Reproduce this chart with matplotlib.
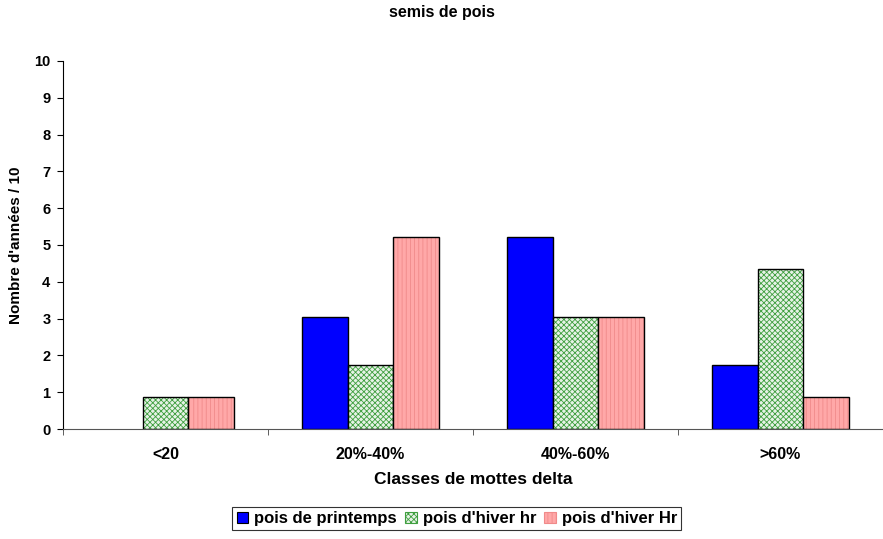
import matplotlib
matplotlib.use("Agg")
import matplotlib.pyplot as plt
import numpy as np
from matplotlib.patches import Patch

categories = ["<20", "20%-40%", "40%-60%", ">60%"]
series_names = ["pois de printemps", "pois d'hiver hr", "pois d'hiver Hr"]
printemps = [0.0, 3.04, 5.22, 1.74]
hiver_hr = [0.87, 1.74, 3.04, 4.35]
hiver_Hr = [0.87, 5.22, 3.04, 0.87]

plt.rcParams['font.family'] = ['Liberation Sans', 'DejaVu Sans']
plt.rcParams['hatch.linewidth'] = 0.6

fig = plt.figure(figsize=(8.83, 5.39), dpi=100)
ax = fig.add_axes([0.0713, 0.204, 0.9287, 0.683])

x = np.arange(len(categories))
w = 0.224
offsets = [-w, 0, w]

def lw(vals):
    return [1.0 if v > 0 else 0 for v in vals]

ax.bar(x + offsets[0], printemps, w, color="#0000ff", edgecolor="black", linewidth=lw(printemps))
# green checker
ax.bar(x + offsets[1], hiver_hr, w, color="#e6f2e6", edgecolor="#3f9f3f", hatch="xxxxxx", linewidth=0)
ax.bar(x + offsets[1], hiver_hr, w, fill=False, edgecolor="black", linewidth=lw(hiver_hr))
# pink vertical lines
ax.bar(x + offsets[2], hiver_Hr, w, color="#ffa8a8", edgecolor="#f08a8a", hatch="||||", linewidth=0)
ax.bar(x + offsets[2], hiver_Hr, w, fill=False, edgecolor="black", linewidth=lw(hiver_Hr))

handles = [
    Patch(facecolor="#0000ff", edgecolor="black", linewidth=0.8),
    Patch(facecolor="#e6f2e6", edgecolor="#3f9f3f", hatch="xxxxxx", linewidth=0.8),
    Patch(facecolor="#ffa8a8", edgecolor="#f08a8a", hatch="||||", linewidth=0.8),
]
leg = fig.legend(handles, series_names, loc="center", bbox_to_anchor=(0.5175, 0.0375),
                 ncol=3, frameon=True, fancybox=False, edgecolor="black",
                 handlelength=0.7, handleheight=0.7, handletextpad=0.35, columnspacing=0.5,
                 borderpad=0.25, borderaxespad=0, prop={'weight': 'bold', 'size': 12})
leg.get_frame().set_linewidth(0.8)

ax.set_xlim(-0.5, 3.5)
ax.set_ylim(0, 10)
ax.set_yticks(range(0, 11))
ax.set_xticks(x)
ax.set_xticklabels(categories, fontsize=11.5, fontweight="bold")
ax.set_xticks(np.arange(-0.5, 4.0, 1.0), minor=True)
ax.tick_params(axis="x", which="major", length=0, pad=13)
ax.tick_params(axis="x", which="minor", length=4, direction="out", color="#444444")
ax.tick_params(axis="y", length=4, direction="out", labelsize=10.5, pad=5)
for lab in ax.get_yticklabels():
    lab.set_fontweight("bold")

ax.spines["top"].set_visible(False)
ax.spines["right"].set_visible(False)
ax.spines["bottom"].set_color("#555555")
ax.spines["left"].set_color("black")

ax.set_xlabel("Classes de mottes delta", fontsize=12.5, fontweight="bold", labelpad=7)
ax.set_ylabel("Nombre d'années / 10", fontsize=11, fontweight="bold", labelpad=8)
fig.text(0.5, 0.977, "semis de pois", fontsize=11.5, fontweight="bold", ha="center", va="center")

fig.savefig("out.png", dpi=100)
